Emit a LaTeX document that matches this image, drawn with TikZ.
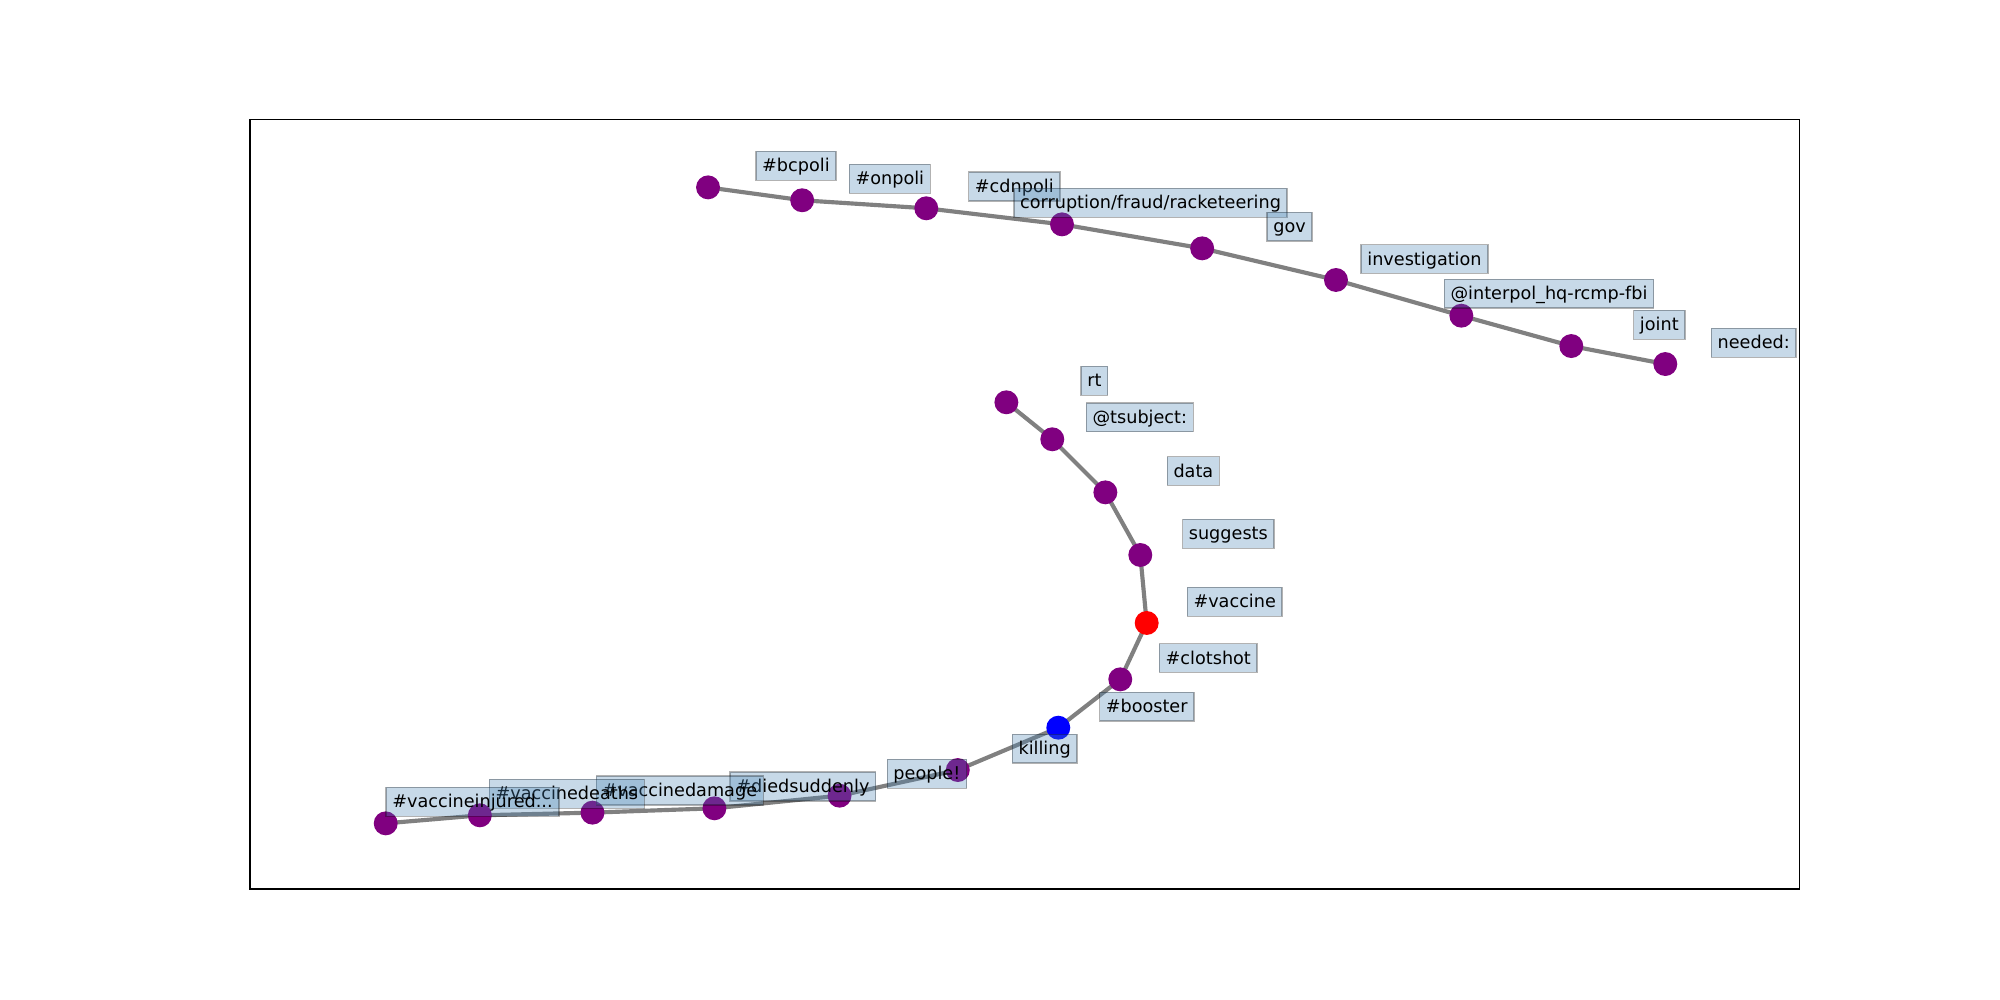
\documentclass[tikz,border=0pt]{standalone}
\usepackage{fontspec}
\setmainfont{DejaVu Sans}
\definecolor{nodepurple}{RGB}{128,0,128}
\definecolor{steelb}{RGB}{70,130,180}
\tikzset{
  vtx/.style={circle, fill=nodepurple, minimum size=17.3pt, inner sep=0pt},
  lbl/.style={rectangle, fill=steelb, fill opacity=0.3, draw=black, draw opacity=0.3,
    line width=1pt, text opacity=1, font=\fontsize{12.75}{15}\selectfont,
    text height=11.83pt, text depth=3.01pt, inner xsep=4.5pt, inner ysep=3pt},
  edg/.style={draw=gray, line width=3pt},
}
\begin{document}
\begin{tikzpicture}[x=0.032398cm, y=-0.032398cm]
\useasboundingbox (0,0) rectangle (1568,784);
\draw[line width=0.8pt] (196,94) rectangle (1411,697);
% top chain nodes
\coordinate (t1) at (555.1,146.9);
\coordinate (t2) at (628.9,157.0);
\coordinate (t3) at (726.2,163.3);
\coordinate (t4) at (832.6,175.9);
\coordinate (t5) at (942.5,194.7);
\coordinate (t6) at (1047.4,219.5);
\coordinate (t7) at (1145.7,247.5);
\coordinate (t8) at (1231.9,271.3);
\coordinate (t9) at (1305.6,285.4);
% bottom chain
\coordinate (b1) at (789.0,315.4);
\coordinate (b2) at (825.0,344.4);
\coordinate (b3) at (866.6,386.0);
\coordinate (b4) at (894.0,435.1);
\coordinate (b5) at (899.0,488.4);
\coordinate (b6) at (878.3,532.6);
\coordinate (b7) at (829.7,570.5);
\coordinate (b8) at (750.9,603.7);
\coordinate (b9) at (658.2,623.8);
\coordinate (b10) at (560.1,633.7);
\coordinate (b11) at (464.5,637.1);
\coordinate (b12) at (376.2,639.2);
\coordinate (b13) at (302.4,645.5);
% edges
\draw[edg] (t1) -- (t2) -- (t3) -- (t4) -- (t5) -- (t6) -- (t7) -- (t8) -- (t9);
\draw[edg] (b1) -- (b2) -- (b3) -- (b4) -- (b5) -- (b6) -- (b7) -- (b8) -- (b9) -- (b10) -- (b11) -- (b12) -- (b13);
% vertices
\foreach \p in {t1,t2,t3,t4,t5,t6,t7,t8,t9,b1,b2,b3,b4,b6,b8,b9,b10,b11,b12,b13}
  \node[vtx] (v\p) at (\p) {};
\node[vtx, fill=red] (vb5) at (b5) {};
\node[vtx, fill=blue] (vb7) at (b7) {};
% labels top
\node[lbl] (l1) at (624.0,130.0) {\#bcpoli};
\node[lbl] (l2) at (697.6,140.2) {\#onpoli};
\node[lbl] (l3) at (795.2,146.3) {\#cdnpoli};
\node[lbl] (l4) at (902.0,159.0) {corruption/fraud/racketeering};
\node[lbl] (l5) at (1011.0,177.7) {gov};
\node[lbl] (l6) at (1116.8,203.0) {investigation};
\node[lbl] (l7) at (1214.4,230.3) {@interpol\_hq-rcmp-fbi};
\node[lbl] (l8) at (1300.9,254.7) {joint};
\node[lbl] (l9) at (1374.9,268.8) {needed:};
% labels bottom
\node[lbl] (k1) at (858.0,298.6) {rt};
\node[lbl] (k2) at (893.6,327.2) {@tsubject:};
\node[lbl] (k3) at (935.6,369.3) {data};
\node[lbl] (k4) at (963.0,418.5) {suggests};
\node[lbl] (k5) at (968.0,471.8) {\#vaccine};
\node[lbl] (k6) at (947.3,515.9) {\#clotshot};
\node[lbl] (k7) at (899.0,554.0) {\#booster};
\node[lbl] (k8) at (819.0,587.0) {killing};
\node[lbl] (k9) at (726.7,606.7) {people!};
\node[lbl] (k10) at (629.5,616.6) {\#diedsuddenly};
\node[lbl] (k11) at (533.0,619.7) {\#vaccinedamage};
\node[lbl] (k12) at (444.4,622.4) {\#vaccinedeaths};
\node[lbl] (k13) at (370.4,628.6) {\#vaccineinjured...};
\end{tikzpicture}
\end{document}
